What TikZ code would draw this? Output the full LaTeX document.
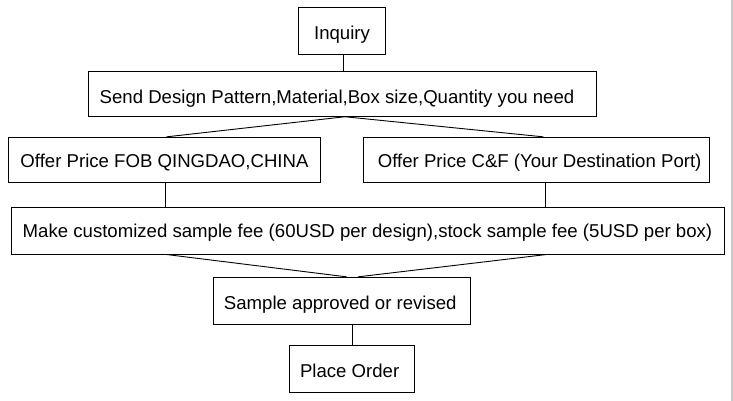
\documentclass[tikz,border=0pt]{standalone}
\usepackage{fontspec}
\setmainfont{Liberation Sans}
\definecolor{edgegrey}{RGB}{200,200,200}
\begin{document}
\begin{tikzpicture}[x=1pt,y=-1pt,
  box/.style={draw=black, line width=0.9pt, inner sep=0pt, text depth=0pt,
    font=\fontsize{18.6}{20}\selectfont},
  link/.style={draw=black, line width=0.9pt}]
\useasboundingbox (0,0) rectangle (733,401);
\fill[white] (0,0) rectangle (733,401);
\draw[edgegrey, line width=2pt] (731.7,0) -- (731.7,401);

\node[box, minimum width=87.4pt, minimum height=46.7pt, text height=17.2pt] (inq) at (342,30.65) {Inquiry};
\node[box, minimum width=508.4pt, minimum height=45.3pt, text height=20.6pt] (send) at (342.5,93.65) {Send Design Pattern,Material,Box size,Quantity you need\hspace*{11pt}};
\node[box, minimum width=312.4pt, minimum height=45pt, text height=15pt] (fob) at (164.5,159.8) {Offer Price FOB QINGDAO,CHINA};
\node[box, minimum width=345.7pt, minimum height=45pt, text height=15pt] (cf) at (536.15,159.8) {\hspace*{7pt}Offer Price C\&F (Your Destination Port)};
\node[box, minimum width=713pt, minimum height=47pt, text height=13.4pt] (make) at (367.5,230.5) {Make customized sample fee (60USD per design),stock sample fee (5USD per box)};
\node[box, minimum width=257pt, minimum height=46.7pt, text height=18.6pt] (sample) at (341.8,300.65) {Sample approved or revised\hspace*{3pt}};
\node[box, minimum width=124.7pt, minimum height=46.6pt, text height=16.6pt] (place) at (351.65,369) {Place Order\hspace*{4pt}};

\draw[link] ([xshift=1pt]inq.south) -- ([xshift=1pt]inq.south |- send.north);
\draw[link] ([xshift=2.5pt]send.south) -- ([xshift=2pt]fob.north);
\draw[link] ([xshift=2.5pt]send.south) -- ([xshift=7.3pt]cf.north);
\draw[link] ([xshift=1.2pt]fob.south) -- ([xshift=1.2pt]fob.south |- make.north);
\draw[link] ([xshift=9pt]cf.south) -- ([xshift=9pt]cf.south |- make.north);
\draw[link] ([xshift=-201.5pt]make.south) -- ([xshift=4.9pt]sample.north);
\draw[link] ([xshift=179.5pt]make.south) -- ([xshift=16.2pt]sample.north);
\draw[link] ([xshift=0.6pt]place.north) -- ([xshift=0.6pt]place.north |- sample.south);
\end{tikzpicture}
\end{document}
